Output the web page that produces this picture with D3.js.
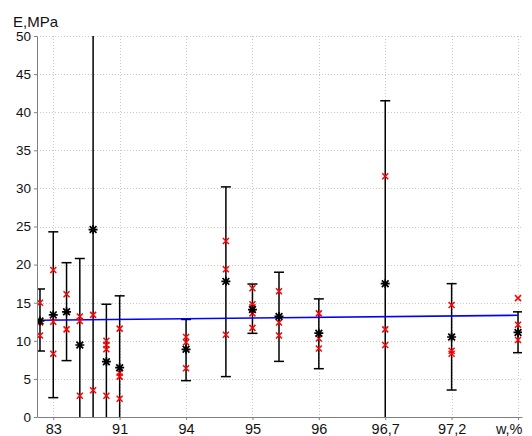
<!DOCTYPE html>
<html>
<head>
<meta charset="utf-8">
<script src="https://cdn.jsdelivr.net/npm/d3@7"></script>
<style>
  body { margin: 0; background: #fff; }
  svg { display: block; font-family: "Liberation Sans", Arial, sans-serif; }
</style>
</head>
<body>
<svg width="532" height="436"></svg>
<script>
// group positions (in tick units), means, error bar ends
var positions = [0.8, 1, 1.2, 1.4, 1.6, 1.8, 2, 3, 3.6, 4, 4.4, 5, 6, 7, 8];
var means = [12.6, 13.4, 13.8, 9.45, 24.6, 7.26, 6.47, 8.88, 17.8, 14.1, 13.2, 11.0, 17.5, 10.5, 11.1];
var upper = [16.8, 24.3, 20.25, 20.8, 55, 14.8, 15.9, 12.8, 30.2, 17.45, 19.0, 15.5, 41.5, 17.5, 13.8];
var lower = [8.66, 2.54, 7.4, -3, -3, -3, -3, 4.77, 5.3, 10.98, 7.3, 6.34, -3, 3.54, 8.44];
var reds = [
  [15.0, 12.4, 10.7],
  [19.3, 12.5, 8.3],
  [16.1, 11.5],
  [13.2, 12.6, 2.8],
  [13.4, 3.5],
  [10.0, 9.45, 8.9, 2.8],
  [11.6, 5.8, 5.3, 2.4],
  [10.5, 9.8, 6.4],
  [23.1, 19.4, 10.8],
  [16.9, 14.8, 14.4, 13.6, 11.7],
  [16.5, 12.4, 10.7],
  [13.6, 10.3, 9.0],
  [31.6, 11.5, 9.45],
  [14.7, 8.7, 8.3],
  [15.6, 12.1, 10.1]
];
var fitX = [0.8, 8];
var fitY = [12.7, 13.35];
var tickPos = [1, 2, 3, 4, 5, 6, 7, 8];
var tickLabels = ['83', '91', '94', '95', '96', '96,7', '97,2', 'w,%'];
var yTicks = [0, 5, 10, 15, 20, 25, 30, 35, 40, 45, 50];

var svg = d3.select('svg');
var pLeft = 37, pRight = 522, pTop = 36, pBottom = 417;

var x = d3.scaleLinear().domain([0.755, 8.06]).range([pLeft, pRight]);
var y = d3.scaleLinear().domain([0, 50]).range([pBottom, pTop]);

svg.append('defs').append('clipPath').attr('id', 'plot')
  .append('rect').attr('x', pLeft).attr('y', pTop)
  .attr('width', pRight - pLeft).attr('height', pBottom - pTop);

// grid
var grid = svg.append('g').attr('stroke', '#c8c8c8').attr('stroke-dasharray', '1,2').attr('stroke-width', 1);
grid.selectAll('.hg').data(yTicks.slice(1)).enter().append('line')
  .attr('x1', pLeft).attr('x2', pRight)
  .attr('y1', d => Math.round(y(d)) + 0.5).attr('y2', d => Math.round(y(d)) + 0.5);
grid.selectAll('.vg').data(tickPos).enter().append('line')
  .attr('x1', d => Math.round(x(d)) + 0.5).attr('x2', d => Math.round(x(d)) + 0.5)
  .attr('y1', pTop).attr('y2', pBottom);

var plot = svg.append('g').attr('clip-path', 'url(#plot)');

// error bars
var groups = positions.map(function(p, i) {
  return {p: p, m: means[i], hi: upper[i], lo: lower[i], reds: reds[i]};
});
var cap = 5;
var eb = plot.append('g').attr('stroke', '#000').attr('stroke-width', 1.5);
groups.forEach(function(g) {
  eb.append('line').attr('x1', x(g.p)).attr('x2', x(g.p)).attr('y1', y(g.hi)).attr('y2', y(g.lo));
  eb.append('line').attr('x1', x(g.p) - cap).attr('x2', x(g.p) + cap).attr('y1', y(g.hi)).attr('y2', y(g.hi));
  eb.append('line').attr('x1', x(g.p) - cap).attr('x2', x(g.p) + cap).attr('y1', y(g.lo)).attr('y2', y(g.lo));
});

// fit line
plot.append('line')
  .attr('x1', x(fitX[0])).attr('x2', x(fitX[1]))
  .attr('y1', y(fitY[0])).attr('y2', y(fitY[1]))
  .attr('stroke', '#0000ff').attr('stroke-width', 1.6);

// red crosses
var rx = 3;
var redG = plot.append('g').attr('stroke', '#ff0000').attr('stroke-width', 1.5);
groups.forEach(function(g) {
  g.reds.forEach(function(v) {
    var cx = x(g.p), cy = y(v);
    redG.append('path').attr('d', 'M' + (cx - rx) + ',' + (cy - rx) + 'L' + (cx + rx) + ',' + (cy + rx) +
      'M' + (cx - rx) + ',' + (cy + rx) + 'L' + (cx + rx) + ',' + (cy - rx));
  });
});

// black asterisks
var ar = 4.5;
var starG = plot.append('g').attr('stroke', '#000').attr('stroke-width', 1.7);
groups.forEach(function(g) {
  var cx = x(g.p), cy = y(g.m), d = ar * 0.75;
  starG.append('path').attr('d',
    'M' + (cx - ar) + ',' + cy + 'L' + (cx + ar) + ',' + cy +
    'M' + cx + ',' + (cy - ar) + 'L' + cx + ',' + (cy + ar) +
    'M' + (cx - d) + ',' + (cy - d) + 'L' + (cx + d) + ',' + (cy + d) +
    'M' + (cx - d) + ',' + (cy + d) + 'L' + (cx + d) + ',' + (cy - d));
});

// axes
var axisColor = '#808080';
var yAxis = svg.append('g').attr('transform', 'translate(' + pLeft + ',0)')
  .call(d3.axisLeft(y).tickValues(yTicks).tickSize(3).tickSizeOuter(0).tickPadding(3));
var xAxis = svg.append('g').attr('transform', 'translate(0,' + pBottom + ')')
  .call(d3.axisBottom(x).tickValues(tickPos).tickFormat((d, i) => tickLabels[i]).tickSize(3).tickSizeOuter(0).tickPadding(4));
[yAxis, xAxis].forEach(function(a) {
  a.select('.domain').attr('stroke', axisColor);
  a.selectAll('.tick line').attr('stroke', axisColor);
  a.selectAll('.tick text').attr('fill', '#111').attr('font-family', '"Liberation Sans", Arial, sans-serif');
});
yAxis.selectAll('.tick text').attr('font-size', 13.5);
xAxis.selectAll('.tick text').attr('font-size', 14.5);
// last label sits left of its tick so it stays inside the picture
xAxis.selectAll('.tick text').filter((d, i) => i === tickLabels.length - 1)
  .attr('text-anchor', 'end').attr('x', 4);

svg.append('text').attr('x', 13).attr('y', 27).attr('font-size', 15).attr('fill', '#111')
  .text('E,MPa');
</script>
</body>
</html>
